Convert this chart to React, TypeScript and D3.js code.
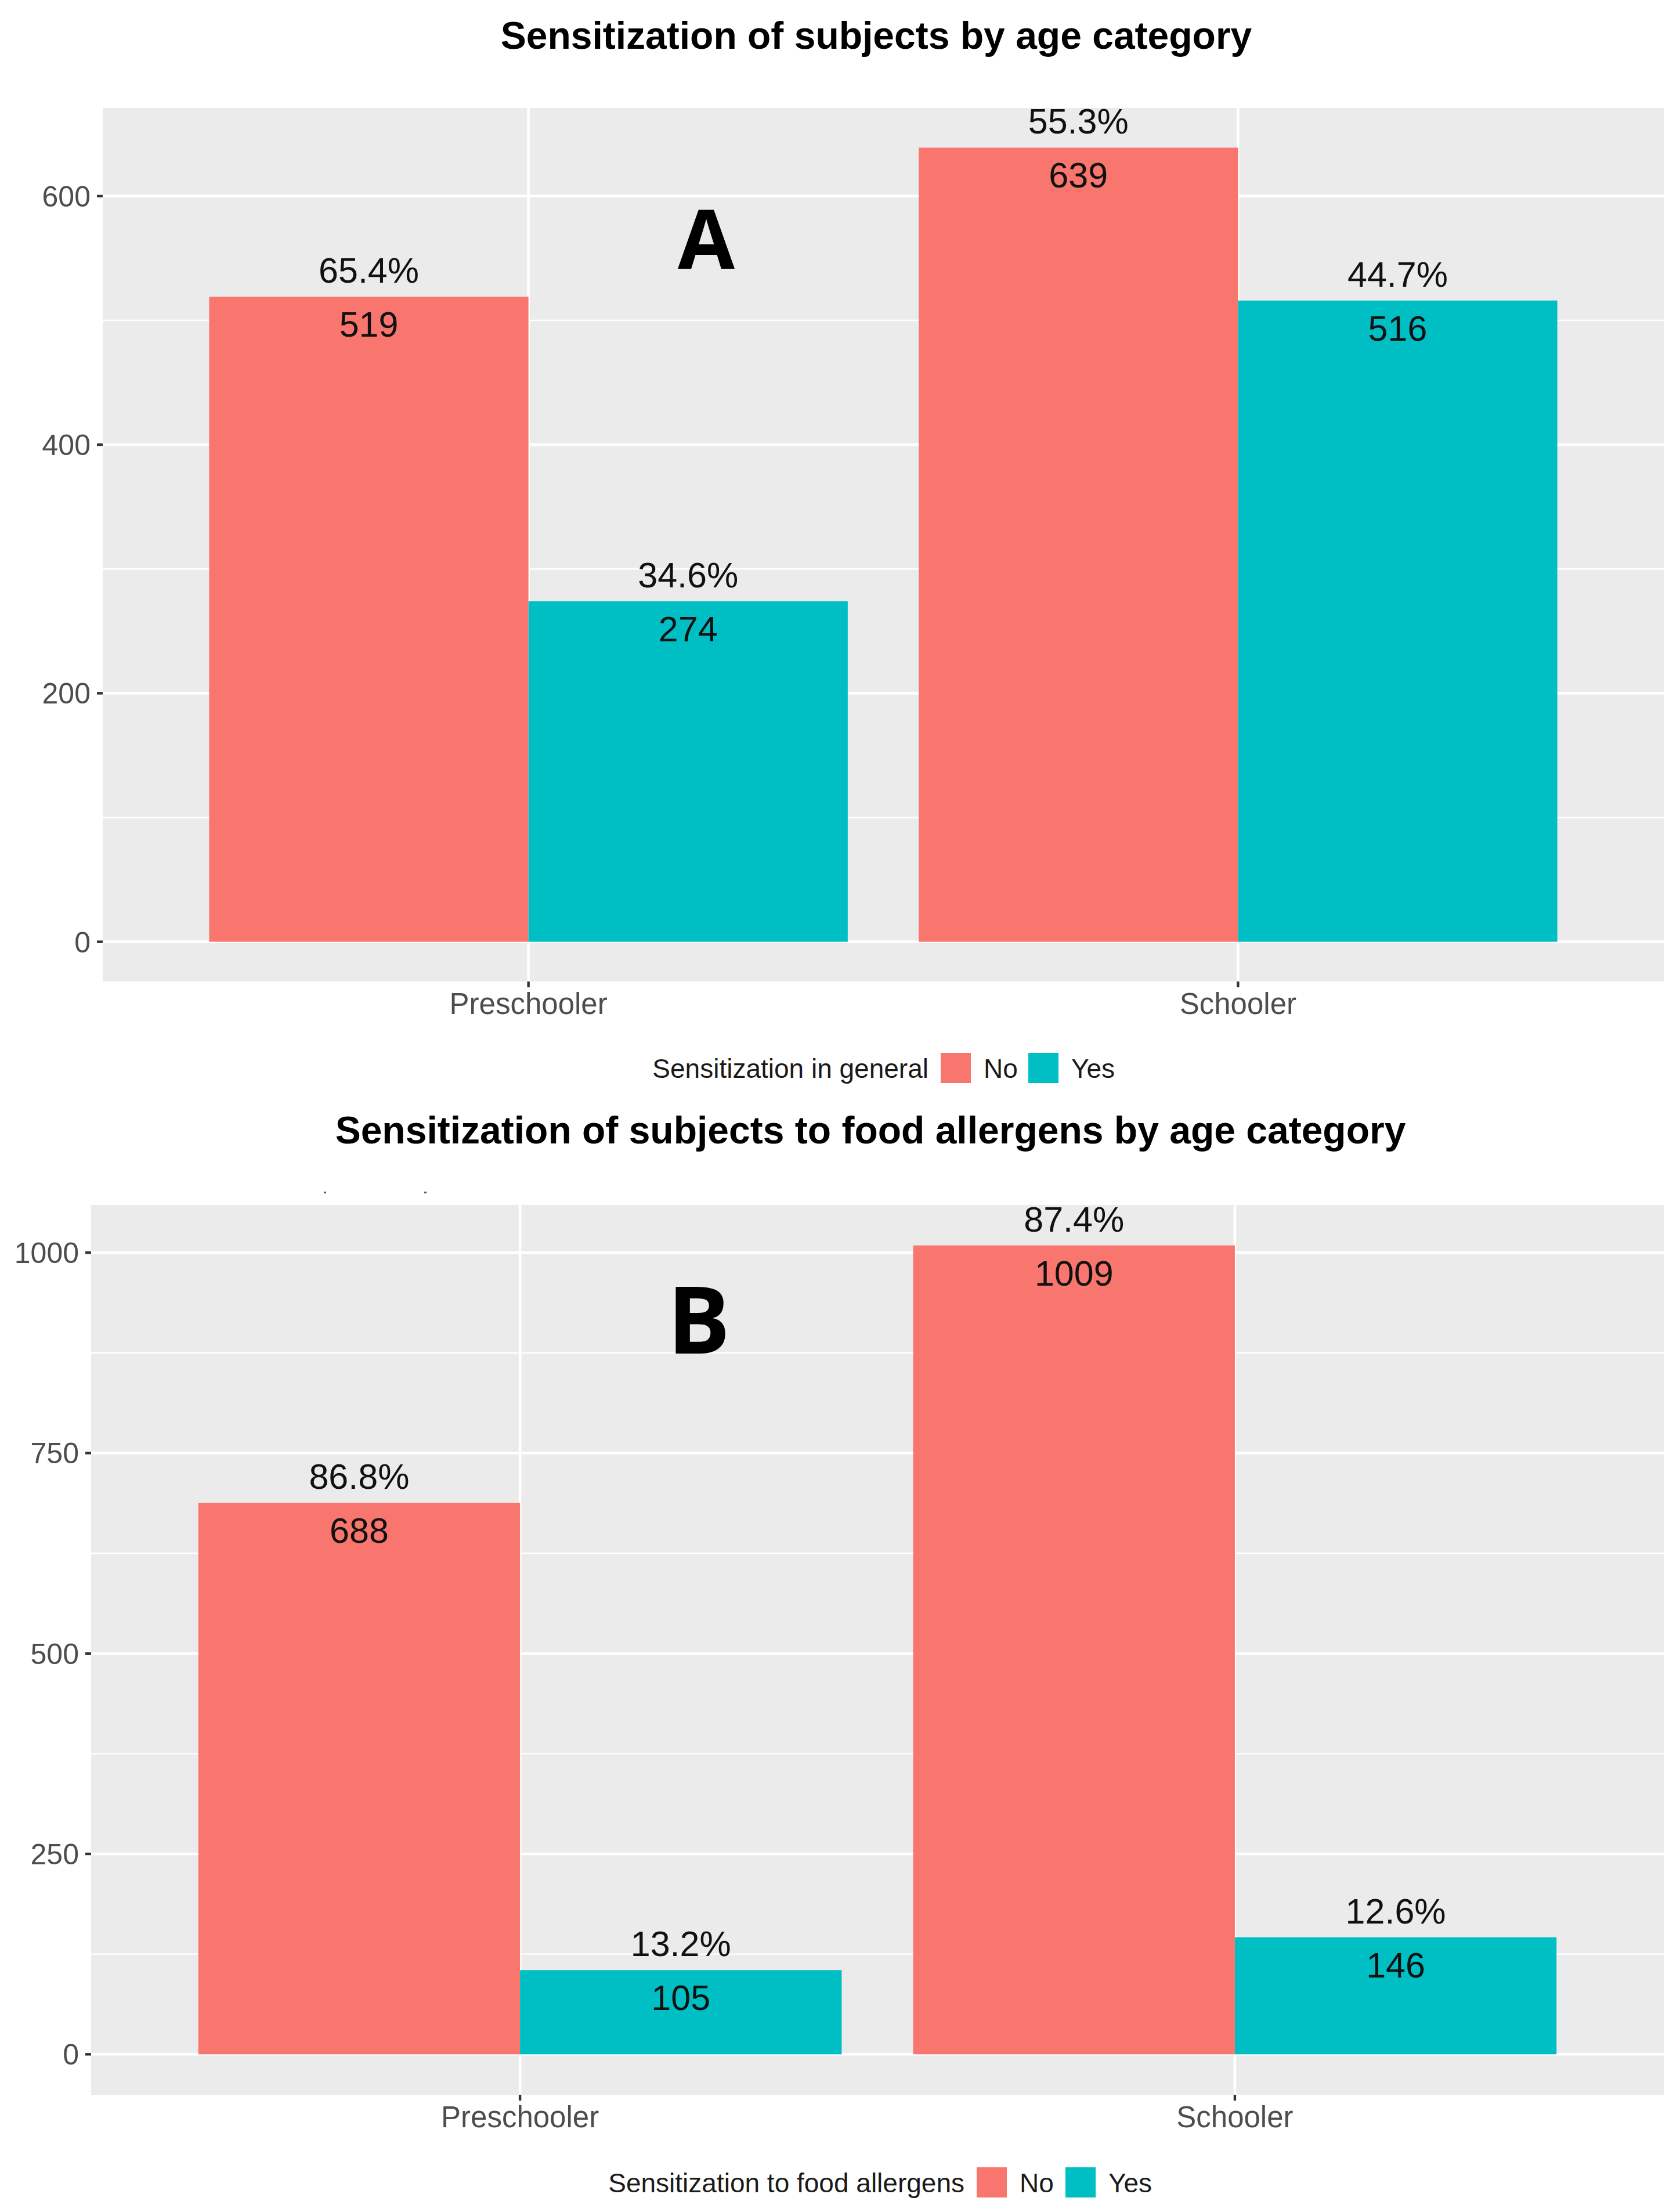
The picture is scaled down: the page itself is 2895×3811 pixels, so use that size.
import React from "react";
import * as d3 from "d3";

// ---- data ----
const categories = ["Preschooler", "Schooler"];
const groups = ["No", "Yes"];
const groupColors = ["#F8766D", "#00BFC4"];

const generalNo = [519, 639];
const generalYes = [274, 516];
const generalNoPct = ["65.4%", "55.3%"];
const generalYesPct = ["34.6%", "44.7%"];

const foodNo = [688, 1009];
const foodYes = [105, 146];
const foodNoPct = ["86.8%", "87.4%"];
const foodYesPct = ["13.2%", "12.6%"];

const yTicksA = [0, 200, 400, 600];
const yMinorA = [100, 300, 500];
const yTicksB = [0, 250, 500, 750, 1000];
const yMinorB = [125, 375, 625, 875];

const titleA = "Sensitization of subjects by age category";
const titleB = "Sensitization of subjects to food allergens by age category";
const legendTitleA = "Sensitization in general";
const legendTitleB = "Sensitization to food allergens";

const FONT = "'Liberation Sans', Arial, Helvetica, sans-serif";

type PanelProps = {
  title: string;
  legendTitle: string;
  letter: string;
  series: number[][];
  pcts: string[][];
  yTicks: number[];
  yMinor: number[];
  left: number;
  right: number;
  top: number;
  bottom: number;
  titleX: number;
  titleY: number;
  legendY: number;
  key1X: number;
  key2X: number;
  letterX: number;
  letterY: number;
  letterSize: number;
  dots?: number[][];
};

function Panel(p: PanelProps) {
  const all = p.series.flat();
  const maxV = d3.max(all) as number;
  const y = d3
    .scaleLinear()
    .domain([-0.05 * maxV, maxV * 1.05])
    .range([p.bottom, p.top]);
  const x = d3.scaleLinear().domain([0.4, 2.6]).range([p.left, p.right]);
  const dodge = 0.45;
  const bw = x(dodge) - x(0);
  const keySize = 52;

  return (
    <g>
      <text
        x={p.titleX}
        y={p.titleY}
        textAnchor="middle"
        fontFamily={FONT}
        fontWeight="bold"
        fontSize={66}
        fill="#000"
      >
        {p.title}
      </text>
      {p.dots &&
        p.dots.map((d, i) => (
          <rect key={"dot" + i} x={d[0]} y={d[1]} width={4} height={3} fill="#555" />
        ))}
      <rect
        x={p.left}
        y={p.top}
        width={p.right - p.left}
        height={p.bottom - p.top}
        fill="#EBEBEB"
      />
      {p.yMinor.map((t) => (
        <line
          key={"mi" + t}
          x1={p.left}
          x2={p.right}
          y1={y(t)}
          y2={y(t)}
          stroke="#FFFFFF"
          strokeWidth={2.4}
        />
      ))}
      {p.yTicks.map((t) => (
        <line
          key={"ma" + t}
          x1={p.left}
          x2={p.right}
          y1={y(t)}
          y2={y(t)}
          stroke="#FFFFFF"
          strokeWidth={4.6}
        />
      ))}
      {categories.map((c, i) => (
        <line
          key={"vx" + c}
          x1={x(i + 1)}
          x2={x(i + 1)}
          y1={p.top}
          y2={p.bottom}
          stroke="#FFFFFF"
          strokeWidth={4.6}
        />
      ))}
      {categories.map((c, i) =>
        groups.map((g, gi) => {
          const v = p.series[gi][i];
          const x0 = x(i + 1 - dodge + gi * dodge);
          return (
            <rect
              key={c + g}
              x={x0}
              y={y(v)}
              width={bw}
              height={y(0) - y(v)}
              fill={groupColors[gi]}
            />
          );
        })
      )}
      {categories.map((c, i) =>
        groups.map((g, gi) => {
          const v = p.series[gi][i];
          const cx = x(i + 1 - dodge / 2 + gi * dodge);
          return (
            <g key={"lab" + c + g}>
              <text
                x={cx}
                y={y(v) - 24}
                textAnchor="middle"
                fontFamily={FONT}
                fontSize={61}
                fill="#111"
              >
                {p.pcts[gi][i]}
              </text>
              <text
                x={cx}
                y={y(v) + 69}
                textAnchor="middle"
                fontFamily={FONT}
                fontSize={61}
                fill="#111"
              >
                {v}
              </text>
            </g>
          );
        })
      )}
      <text
        x={p.letterX}
        y={p.letterY}
        textAnchor="middle"
        fontFamily="'Open Sans', 'DejaVu Sans', sans-serif"
        fontWeight={700}
        fontSize={p.letterSize}
        fill="#000"
      >
        {p.letter}
      </text>
      {/* y axis */}
      {p.yTicks.map((t) => (
        <g key={"yt" + t}>
          <line
            x1={p.left - 10}
            x2={p.left}
            y1={y(t)}
            y2={y(t)}
            stroke="#333333"
            strokeWidth={4.4}
          />
          <text
            x={p.left - 21}
            y={y(t)}
            dy="0.36em"
            textAnchor="end"
            fontFamily={FONT}
            fontSize={50}
            fill="#4D4D4D"
          >
            {t}
          </text>
        </g>
      ))}
      {/* x axis */}
      {categories.map((c, i) => (
        <g key={"xt" + c}>
          <line
            x1={x(i + 1)}
            x2={x(i + 1)}
            y1={p.bottom}
            y2={p.bottom + 10}
            stroke="#333333"
            strokeWidth={4.4}
          />
          <text
            x={x(i + 1)}
            y={p.bottom + 56}
            textAnchor="middle"
            fontFamily={FONT}
            fontSize={51}
            fill="#4D4D4D"
          >
            {c}
          </text>
        </g>
      ))}
      {/* legend */}
      <text
        x={p.key1X - 21}
        y={p.legendY}
        dy="0.36em"
        textAnchor="end"
        fontFamily={FONT}
        fontSize={46}
        fill="#1a1a1a"
      >
        {p.legendTitle}
      </text>
      {groups.map((g, gi) => {
        const kx = gi === 0 ? p.key1X : p.key2X;
        return (
          <g key={"leg" + g}>
            <rect
              x={kx}
              y={p.legendY - keySize / 2}
              width={keySize}
              height={keySize}
              fill={groupColors[gi]}
            />
            <text
              x={kx + keySize + 22}
              y={p.legendY}
              dy="0.36em"
              fontFamily={FONT}
              fontSize={46}
              fill="#1a1a1a"
            >
              {g}
            </text>
          </g>
        );
      })}
    </g>
  );
}

export default function App() {
  return (
    <svg
      width={2895}
      height={3811}
      viewBox="0 0 2895 3811"
      style={{ position: "absolute", left: 0, top: 0, background: "#fff", display: "block" }}
    >
      <rect x={0} y={0} width={2895} height={3811} fill="#FFFFFF" />
      <Panel
        title={titleA}
        legendTitle={legendTitleA}
        letter="A"
        series={[generalNo, generalYes]}
        pcts={[generalNoPct, generalYesPct]}
        yTicks={yTicksA}
        yMinor={yMinorA}
        left={177}
        right={2867}
        top={186}
        bottom={1691}
        titleX={1510}
        titleY={84}
        legendY={1840}
        key1X={1621}
        key2X={1772}
        letterX={1217}
        letterY={463}
        letterSize={142}
      />
      <Panel
        title={titleB}
        legendTitle={legendTitleB}
        letter="B"
        series={[foodNo, foodYes]}
        pcts={[foodNoPct, foodYesPct]}
        yTicks={yTicksB}
        yMinor={yMinorB}
        left={157}
        right={2867}
        top={2076}
        bottom={3609}
        titleX={1500}
        titleY={1970}
        legendY={3760}
        key1X={1683}
        key2X={1836}
        letterX={1204}
        letterY={2332}
        letterSize={161}
        dots={[[558, 2053], [731, 2053]]}
      />
    </svg>
  );
}
